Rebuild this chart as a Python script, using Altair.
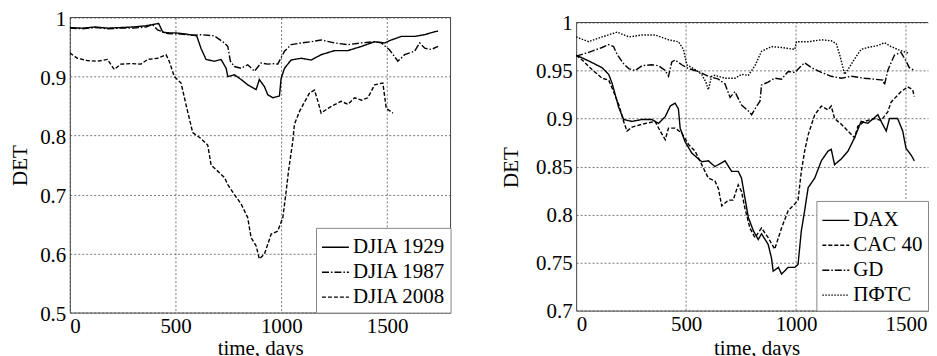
import altair as alt
import pandas as pd

FONT = "Liberation Serif"
FS = 21

# ---------------- data (day, DET) ----------------
djia1929 = [(0, 0.983), (60, 0.982), (120, 0.984), (180, 0.982), (240, 0.983), (300, 0.984),
            (360, 0.986), (390, 0.988), (420, 0.990), (440, 0.975), (470, 0.974), (500, 0.974),
            (550, 0.972), (600, 0.969), (620, 0.948), (644, 0.929), (683, 0.926), (715, 0.929),
            (739, 0.914), (747, 0.900), (778, 0.903), (810, 0.895), (841, 0.886), (881, 0.878),
            (896, 0.895), (920, 0.883), (936, 0.869), (960, 0.864), (991, 0.867), (999, 0.897),
            (1015, 0.914), (1046, 0.928), (1094, 0.931), (1141, 0.928), (1188, 0.937),
            (1252, 0.944), (1315, 0.944), (1378, 0.951), (1441, 0.959), (1488, 0.957),
            (1520, 0.962), (1567, 0.968), (1630, 0.968), (1678, 0.971), (1725, 0.976), (1741, 0.977)]

djia1987 = [(0, 0.982), (60, 0.981), (120, 0.983), (180, 0.981), (240, 0.982), (300, 0.982),
            (360, 0.984), (391, 0.988), (415, 0.979), (462, 0.973), (526, 0.972), (580, 0.970),
            (620, 0.971), (683, 0.969), (731, 0.957), (747, 0.951), (759, 0.926), (778, 0.917),
            (810, 0.914), (841, 0.920), (873, 0.909), (904, 0.923), (936, 0.921), (967, 0.922),
            (983, 0.921), (1015, 0.943), (1046, 0.954), (1094, 0.957), (1141, 0.959),
            (1188, 0.962), (1252, 0.957), (1315, 0.954), (1378, 0.957), (1441, 0.959),
            (1473, 0.957), (1512, 0.945), (1551, 0.926), (1583, 0.937), (1630, 0.943),
            (1654, 0.957), (1678, 0.948), (1709, 0.946), (1741, 0.951)]

djia2008 = [(0, 0.940), (36, 0.931), (84, 0.927), (131, 0.926), (178, 0.929), (210, 0.912),
            (241, 0.921), (289, 0.922), (336, 0.921), (368, 0.929), (415, 0.931), (455, 0.937),
            (470, 0.926), (494, 0.900), (526, 0.889), (549, 0.853), (581, 0.805), (620, 0.795),
            (652, 0.784), (668, 0.750), (731, 0.729), (747, 0.717), (778, 0.700), (810, 0.684),
            (841, 0.661), (857, 0.627), (881, 0.613), (896, 0.591), (920, 0.599), (952, 0.633),
            (983, 0.638), (1007, 0.661), (1023, 0.706), (1034, 0.740), (1054, 0.790),
            (1062, 0.819), (1086, 0.841), (1110, 0.857), (1133, 0.872), (1157, 0.877),
            (1173, 0.858), (1188, 0.838), (1220, 0.846), (1250, 0.852), (1283, 0.858),
            (1315, 0.853), (1346, 0.864), (1380, 0.860), (1409, 0.864), (1441, 0.886),
            (1480, 0.889), (1496, 0.846), (1528, 0.838)]

dax = [(0, 0.966), (57, 0.960), (118, 0.953), (148, 0.946), (163, 0.937), (193, 0.912),
       (216, 0.899), (254, 0.897), (299, 0.899), (344, 0.899), (375, 0.895), (405, 0.902),
       (428, 0.913), (450, 0.916), (465, 0.910), (473, 0.890), (495, 0.876), (526, 0.864),
       (571, 0.855), (601, 0.856), (631, 0.850), (677, 0.856), (707, 0.845), (737, 0.845),
       (752, 0.838), (767, 0.818), (783, 0.797), (806, 0.783), (828, 0.774), (843, 0.780),
       (873, 0.769), (888, 0.755), (896, 0.741), (920, 0.745), (934, 0.738), (964, 0.745),
       (994, 0.745), (1009, 0.748), (1024, 0.783), (1039, 0.804), (1055, 0.828), (1085, 0.838),
       (1115, 0.856), (1145, 0.866), (1160, 0.868), (1175, 0.852), (1206, 0.858), (1236, 0.866),
       (1266, 0.880), (1296, 0.897), (1326, 0.895), (1372, 0.904), (1387, 0.897), (1410, 0.887),
       (1425, 0.900), (1462, 0.900), (1485, 0.887), (1500, 0.869), (1523, 0.862), (1538, 0.856)]

cac40 = [(0, 0.966), (27, 0.961), (72, 0.951), (118, 0.942), (148, 0.940), (163, 0.932),
         (193, 0.915), (216, 0.897), (231, 0.887), (254, 0.891), (299, 0.894), (359, 0.897),
         (382, 0.887), (405, 0.878), (420, 0.890), (450, 0.890), (480, 0.885), (511, 0.873),
         (541, 0.866), (571, 0.852), (601, 0.838), (631, 0.835), (647, 0.827), (662, 0.809),
         (692, 0.815), (714, 0.815), (737, 0.831), (752, 0.824), (767, 0.807), (790, 0.786),
         (813, 0.776), (843, 0.786), (873, 0.776), (903, 0.764), (934, 0.786), (964, 0.804),
         (994, 0.811), (1009, 0.815), (1024, 0.845), (1039, 0.866), (1055, 0.883), (1085, 0.904),
         (1115, 0.913), (1145, 0.909), (1160, 0.913), (1175, 0.900), (1206, 0.894), (1236, 0.887),
         (1266, 0.880), (1281, 0.892), (1311, 0.897), (1357, 0.900), (1387, 0.898), (1417, 0.907),
         (1432, 0.917), (1477, 0.928), (1508, 0.933), (1530, 0.930), (1538, 0.923)]

gd = [(0, 0.965), (57, 0.969), (118, 0.974), (148, 0.977), (170, 0.975), (186, 0.967),
      (216, 0.957), (239, 0.952), (269, 0.950), (299, 0.955), (344, 0.956), (375, 0.955),
      (405, 0.950), (420, 0.944), (435, 0.959), (450, 0.961), (480, 0.956), (511, 0.952),
      (556, 0.949), (601, 0.944), (647, 0.941), (677, 0.936), (700, 0.922), (722, 0.928),
      (752, 0.914), (783, 0.908), (798, 0.904), (821, 0.913), (836, 0.918), (843, 0.935),
      (873, 0.938), (903, 0.942), (934, 0.941), (964, 0.949), (994, 0.948), (1024, 0.955),
      (1039, 0.958), (1070, 0.953), (1115, 0.948), (1160, 0.944), (1206, 0.942), (1251, 0.944),
      (1311, 0.942), (1357, 0.941), (1395, 0.940), (1402, 0.935), (1417, 0.950), (1447, 0.966),
      (1477, 0.969), (1500, 0.960), (1515, 0.953), (1538, 0.950)]

pfts = [(0, 0.985), (57, 0.980), (118, 0.985), (186, 0.990), (241, 0.985), (299, 0.987),
        (359, 0.987), (420, 0.982), (465, 0.980), (488, 0.972), (503, 0.956), (541, 0.951),
        (571, 0.946), (590, 0.938), (601, 0.930), (616, 0.944), (631, 0.945), (677, 0.942),
        (722, 0.942), (752, 0.946), (783, 0.945), (813, 0.955), (843, 0.970), (888, 0.975),
        (934, 0.974), (994, 0.972), (1002, 0.980), (1055, 0.980), (1115, 0.982), (1160, 0.981),
        (1183, 0.978), (1200, 0.965), (1221, 0.946), (1236, 0.951), (1266, 0.962), (1296, 0.972),
        (1326, 0.974), (1372, 0.976), (1402, 0.979), (1432, 0.975), (1462, 0.972), (1485, 0.970),
        (1515, 0.968)]

left_names = ["DJIA 1929", "DJIA 1987", "DJIA 2008"]
right_names = ["DAX", "CAC 40", "GD", "ПФТС"]
x_ticks = [0, 500, 1000, 1500]
left_y_ticks = [0.5, 0.6, 0.7, 0.8, 0.9, 1.0]
right_y_ticks = [0.7, 0.75, 0.8, 0.85, 0.9, 0.95, 1.0]
right_grid_x = [500, 1000, 1500]


def to_df(pairs, name):
    return pd.DataFrame({"day": [p[0] for p in pairs],
                         "det": [p[1] for p in pairs],
                         "series": name})


left_df = pd.concat([to_df(djia1929, left_names[0]), to_df(djia1987, left_names[1]),
                     to_df(djia2008, left_names[2])], ignore_index=True)
right_df = pd.concat([to_df(dax, right_names[0]), to_df(cac40, right_names[1]),
                      to_df(gd, right_names[2]), to_df(pfts, right_names[3])], ignore_index=True)

SOLID = [1, 0]
DASHDOT = [7, 2, 1.5, 2]
DASHED = [4, 2]
DOTTED = [1.5, 1.5]

FRAME = "#444"
GRID = dict(grid=True, gridColor="#555", gridDash=[2, 2], gridWidth=0.8)


def legend():
    return alt.Legend(orient="bottom-right", offset=0, title=None, symbolType="stroke",
                      symbolStrokeColor="black", symbolStrokeWidth=1.4, symbolSize=729,
                      labelFont=FONT, labelFontSize=FS, labelColor="black",
                      strokeColor="#888", fillColor="white", padding=5, rowPadding=0,
                      labelOffset=3)


one_row = alt.Data(values=[{"k": 0}])

# ---------------- left panel ----------------
LX1 = 1800
left_lines = alt.Chart(left_df).mark_line(color="black", strokeWidth=1.4, clip=True).encode(
    x=alt.X("day:Q", scale=alt.Scale(domain=[0, LX1], nice=False, zero=False),
            axis=alt.Axis(values=x_ticks, format="d", title="time, days", titleX=191,
                          titleY=42, titleBaseline="alphabetic", titleAlign="center",
                          labelPadding=3, **GRID)),
    y=alt.Y("det:Q", scale=alt.Scale(domain=[0.5, 1.0], nice=False, zero=False),
            axis=alt.Axis(values=left_y_ticks, format="~g", title="DET", titleX=-49,
                          titleY=148, titleAngle=270, titleBaseline="middle",
                          titleAlign="center", labelPadding=4, labelOffset=2, **GRID)),
    strokeDash=alt.StrokeDash("series:N",
                              scale=alt.Scale(domain=left_names, range=[SOLID, DASHDOT, DASHED]),
                              legend=legend()),
)
left_top = alt.Chart(one_row).mark_rule(color=FRAME, strokeWidth=1).encode(
    x=alt.datum(0), x2=alt.datum(LX1), y=alt.datum(1.0))
left_side = alt.Chart(one_row).mark_rule(color=FRAME, strokeWidth=1).encode(
    x=alt.datum(LX1), y=alt.datum(0.5), y2=alt.datum(1.0))
left = alt.layer(left_lines, left_top, left_side).properties(width=382, height=296)

# ---------------- right panel ----------------
RX1 = 1600
right_lines = alt.Chart(right_df).mark_line(color="black", strokeWidth=1.4, clip=True).encode(
    x=alt.X("day:Q", scale=alt.Scale(domain=[0, RX1], nice=False, zero=False),
            axis=alt.Axis(values=x_ticks, format="d", title="time, days", titleX=181,
                          titleY=44, titleBaseline="alphabetic", titleAlign="center",
                          labelPadding=3, grid=False)),
    y=alt.Y("det:Q", scale=alt.Scale(domain=[0.7, 1.0], range=[294, 5], nice=False, zero=False),
            axis=alt.Axis(values=right_y_ticks, format="~g", title="DET", titleX=-65,
                          titleY=150, titleAngle=270, titleBaseline="middle",
                          titleAlign="center", labelPadding=4, labelOffset=1, **GRID)),
    strokeDash=alt.StrokeDash("series:N",
                              scale=alt.Scale(domain=right_names,
                                              range=[SOLID, DASHED, DASHDOT, DOTTED]),
                              legend=legend()),
)
right_vgrid = alt.Chart(pd.DataFrame({"gx": right_grid_x})).mark_rule(
    color="#555", strokeDash=[2, 2], strokeWidth=0.8).encode(
    x="gx:Q", y=alt.datum(0.7), y2=alt.datum(1.0))
right_top = alt.Chart(one_row).mark_rule(color=FRAME, strokeWidth=1).encode(
    x=alt.datum(0), x2=alt.datum(RX1), y=alt.datum(1.0))
right = alt.layer(right_vgrid, right_lines, right_top).properties(width=353, height=294)

chart = alt.hconcat(left, right, spacing=49).resolve_scale(
    x="independent", y="independent", strokeDash="independent"
).resolve_legend(strokeDash="independent").properties(
    padding={"left": 2, "top": 0, "right": 0, "bottom": 0}
).configure_view(stroke=None).configure_axis(
    domainColor=FRAME, domainWidth=1, ticks=False,
    labelFont=FONT, labelFontSize=FS, labelColor="black",
    titleFont=FONT, titleFontSize=FS, titleFontWeight="normal", titleColor="black",
)

chart.save("out.html", embed_options={"renderer": "svg", "actions": False})
